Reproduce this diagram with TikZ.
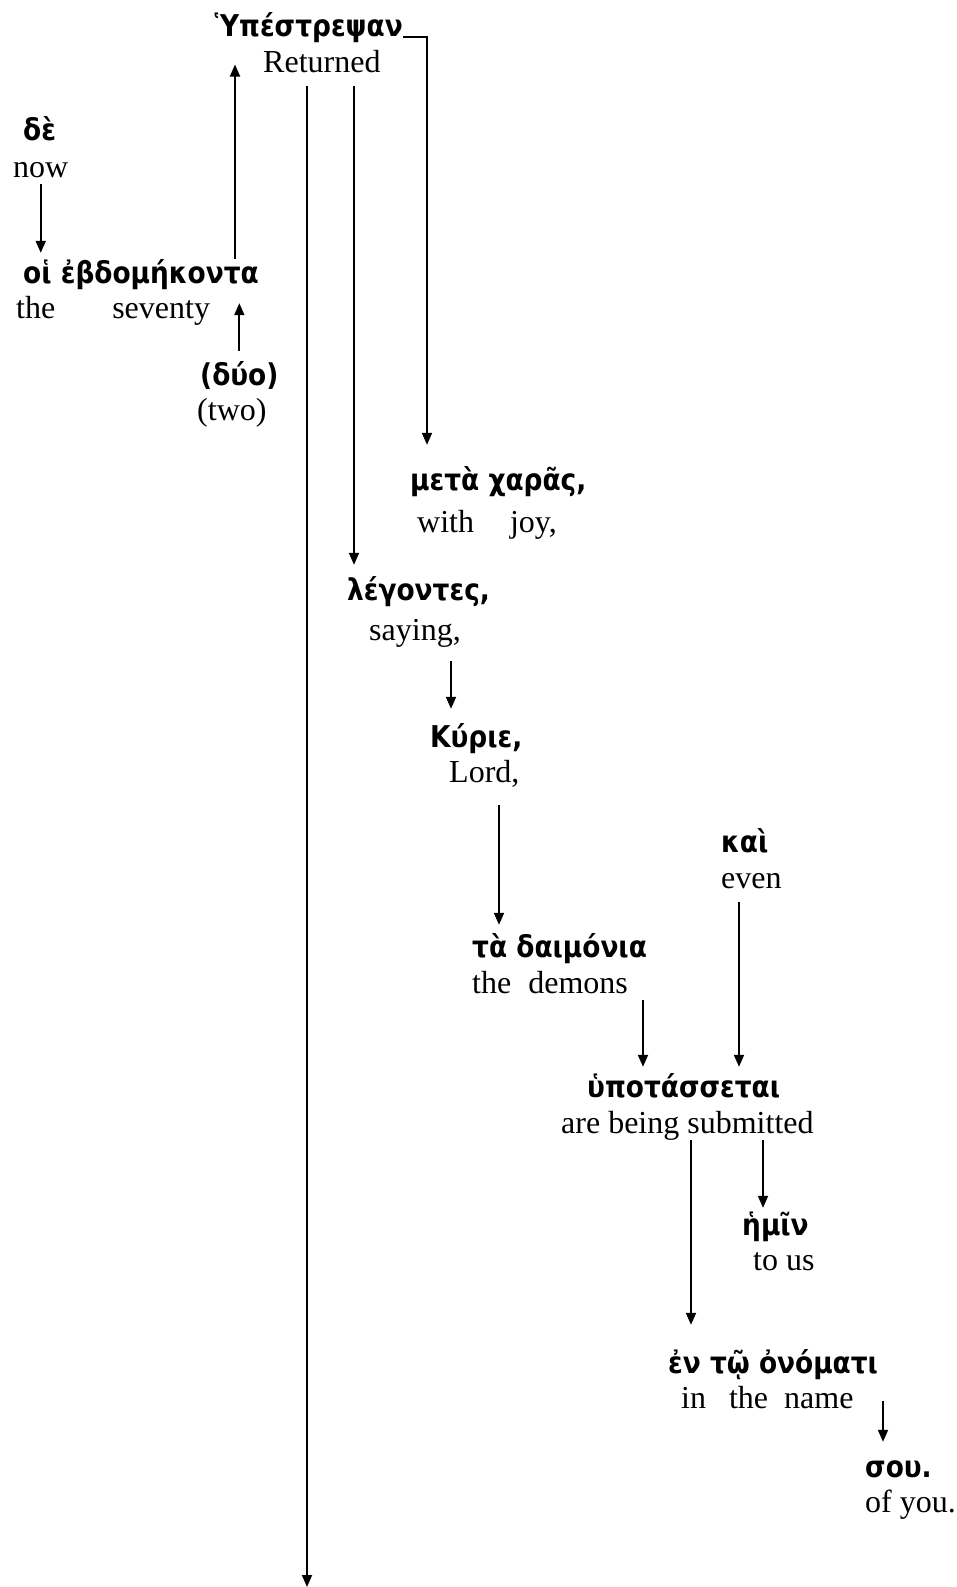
\documentclass[tikz,border=0pt]{standalone}
\usepackage{fontspec}
\setmainfont{Liberation Serif}
\newfontfamily\greekfont[FakeStretch=0.88]{DejaVu Sans}
\usetikzlibrary{arrows.meta}

\begin{document}
\begin{tikzpicture}[x=1pt,y=-1pt]
\tikzstyle{gk}=[anchor=base west, inner sep=0pt, font=\greekfont\bfseries\fontsize{30}{36}\selectfont, text height=24pt, text depth=8pt]
\tikzstyle{en}=[anchor=base west, inner sep=0pt, font=\fontsize{32}{38}\selectfont, text height=22pt, text depth=7pt]
\tikzstyle{arr}=[line width=1.8pt, -{Triangle[length=12pt,width=10pt]}]
\useasboundingbox (0,0) rectangle (956,1587);

% main verb
\node[gk, anchor=base east] (gHyp) at (403,37) {Ὑπέστρεψαν};
\node[en] (eRet) at (263,72) {Returned};

% subject
\node[gk] (gDe) at (23,140) {δὲ};
\node[en] (eNow) at (13,177) {now};
\node[gk] (gOi) at (23,283) {οἱ ἐβδομήκοντα};
\node[en] (eSev) at (16,318) {the\hspace{57pt}seventy};
\node[gk] (gDuo) at (200,385) {(δύο)};
\node[en] (eTwo) at (197,420) {(two)};

% modifiers of the verb
\node[gk] (gMeta) at (410,490) {μετὰ χαρᾶς,};
\node[en] (eJoy) at (417,532) {with\hspace{36pt}joy,};
\node[gk] (gLeg) at (347,600) {λέγοντες,};
\node[en] (eSay) at (369,640) {saying,};

% the saying
\node[gk] (gKyr) at (430,747) {Κύριε,};
\node[en] (eLord) at (449,782) {Lord,};
\node[gk] (gKai) at (721,852) {καὶ};
\node[en] (eEven) at (721,888) {even};
\node[gk] (gDai) at (472,957) {τὰ δαιμόνια};
\node[en] (eDem) at (472,993) {the\hspace{17pt}demons};
\node[gk] (gHypo) at (587,1097) {ὑποτάσσεται};
\node[en] (eSub) at (561,1133) {are being submitted};
\node[gk] (gHmin) at (742,1235) {ἡμῖν};
\node[en] (eUs) at (753,1270) {to us};
\node[gk] (gEn) at (668,1373) {ἐν τῷ ὀνόματι};
\node[en] (eName) at (681,1408) {in\hspace{23pt}the\hspace{16pt}name};
\node[gk] (gSou) at (865,1477) {σου.};
\node[en] (eYou) at (865,1512) {of you.};

% connectors
\draw[arr, shorten >=6pt] (eNow.south) -- (eNow.south |- gOi.north);
\coordinate (upOi) at ([xshift=212pt]gOi.north west);
\draw[arr] (upOi) -- (upOi |- eRet.west);
\draw[arr, shorten <=10pt, shorten >=12pt] (gDuo.north) -- (gDuo.north |- gOi.south);
\draw[arr, shorten >=21pt] (gHyp.base east) -| ([xshift=17pt]gMeta.north west);

\coordinate (lineEnd) at (307,1587);
\draw[arr, shorten <=7pt] ([xshift=44pt]eRet.south west) -- (lineEnd);
\coordinate (dnLeg) at ([xshift=91pt]eRet.south west);
\draw[arr, shorten <=7pt, shorten >=11pt] (dnLeg) -- (dnLeg |- gLeg.north);

\coordinate (dnKyr) at ([xshift=82pt]eSay.south west);
\draw[arr, shorten <=14pt, shorten >=14pt] (dnKyr) -- (dnKyr |- gKyr.north);
\coordinate (dnDai) at ([xshift=50pt]eLord.south west);
\draw[arr, shorten <=16pt, shorten >=8pt] (dnDai) -- (dnDai |- gDai.north);
\coordinate (dnKai) at ([xshift=18pt]eEven.south west);
\draw[arr, shorten <=7pt, shorten >=6pt] (dnKai) -- (dnKai |- gHypo.north);
\coordinate (dnDem) at ([xshift=171pt]eDem.south west);
\draw[arr, shorten >=6pt] (dnDem) -- (dnDem |- gHypo.north);

\coordinate (dnHmin) at ([xshift=202pt]eSub.south west);
\draw[arr, shorten >=3pt] (dnHmin) -- (dnHmin |- gHmin.north);
\coordinate (dnEn) at ([xshift=130pt]eSub.south west);
\draw[arr, shorten >=24pt] (dnEn) -- (dnEn |- gEn.north);
\coordinate (dnSou) at ([xshift=202pt]eName.west);
\draw[arr, shorten >=11pt] (dnSou) -- (dnSou |- gSou.north);
\end{tikzpicture}
\end{document}
